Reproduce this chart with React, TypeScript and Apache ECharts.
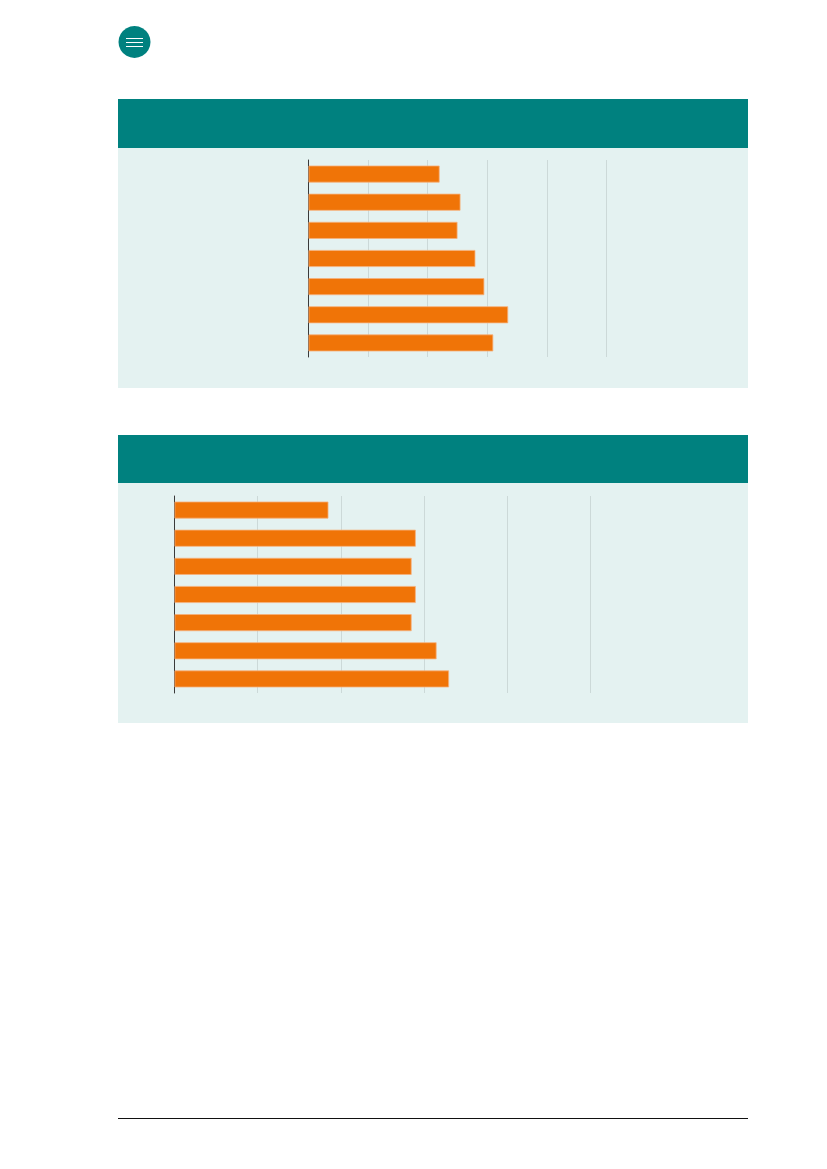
import React, { useEffect, useRef } from "react";
import * as echarts from "echarts";

const categories1 = ["1", "2", "3", "4", "5", "6", "7"];
const values1 = [22, 25.5, 25, 28, 29.5, 33.5, 31];
const categories2 = ["1", "2", "3", "4", "5", "6", "7"];
const values2 = [18.5, 29, 28.5, 29, 28.5, 31.5, 33];
const axisMax = 50;
const axisInterval = 10;

const TEAL = "#00817f";
const PANEL = "#e4f2f1";
const ORANGE = "#f07407";

export default function App() {
  const ref = useRef<HTMLDivElement>(null);
  useEffect(() => {
    if (!ref.current) return;
    const chart = echarts.init(ref.current, undefined, { renderer: "svg" });
    const xAxisBase = (gridIndex: number) => ({
      type: "value",
      gridIndex,
      min: 0,
      max: axisMax,
      interval: axisInterval,
      axisLabel: { show: false },
      axisLine: { show: false },
      axisTick: { show: false },
      splitLine: { show: true, lineStyle: { color: "#ccd9d8", width: 1 } },
    });
    const yAxisBase = (gridIndex: number, data: string[]) => ({
      type: "category",
      gridIndex,
      inverse: true,
      data,
      axisLabel: { show: false },
      axisTick: { show: false },
      axisLine: { show: true, lineStyle: { color: "#3a3a3a", width: 1 } },
      splitLine: { show: false },
    });
    chart.setOption({
      animation: false,
      graphic: [
        { type: "circle", shape: { cx: 134.5, cy: 42, r: 16 }, style: { fill: TEAL }, z: -1 },
        { type: "line", shape: { x1: 126, y1: 38.5, x2: 143, y2: 38.5 }, style: { stroke: "#fff", lineWidth: 1 } },
        { type: "line", shape: { x1: 126, y1: 42.5, x2: 143, y2: 42.5 }, style: { stroke: "#fff", lineWidth: 1 } },
        { type: "line", shape: { x1: 126, y1: 46.5, x2: 143, y2: 46.5 }, style: { stroke: "#fff", lineWidth: 1 } },
        { type: "rect", shape: { x: 118, y: 99, width: 630, height: 49 }, style: { fill: TEAL }, z: -1 },
        { type: "rect", shape: { x: 118, y: 148, width: 630, height: 240 }, style: { fill: PANEL }, z: -1 },
        { type: "rect", shape: { x: 118, y: 435, width: 630, height: 48 }, style: { fill: TEAL }, z: -1 },
        { type: "rect", shape: { x: 118, y: 483, width: 630, height: 240 }, style: { fill: PANEL }, z: -1 },
        { type: "line", shape: { x1: 118, y1: 1118.5, x2: 748, y2: 1118.5 }, style: { stroke: "#111", lineWidth: 1.2 } },
      ],
      grid: [
        { left: 308.5, top: 160, width: 298, height: 197 },
        { left: 174.5, top: 496, width: 416, height: 197 },
      ],
      xAxis: [xAxisBase(0), xAxisBase(1)],
      yAxis: [yAxisBase(0, categories1), yAxisBase(1, categories2)],
      series: [
        {
          type: "bar",
          xAxisIndex: 0,
          yAxisIndex: 0,
          data: values1,
          barWidth: 17,
          itemStyle: { color: ORANGE, borderColor: "#f6b17c", borderWidth: 0.8 },
        },
        {
          type: "bar",
          xAxisIndex: 1,
          yAxisIndex: 1,
          data: values2,
          barWidth: 17,
          itemStyle: { color: ORANGE, borderColor: "#f6b17c", borderWidth: 0.8 },
        },
      ],
    });
    return () => chart.dispose();
  }, []);
  return (
    <div
      ref={ref}
      style={{ position: "absolute", left: 0, top: 0, width: 827, height: 1169 }}
    />
  );
}
